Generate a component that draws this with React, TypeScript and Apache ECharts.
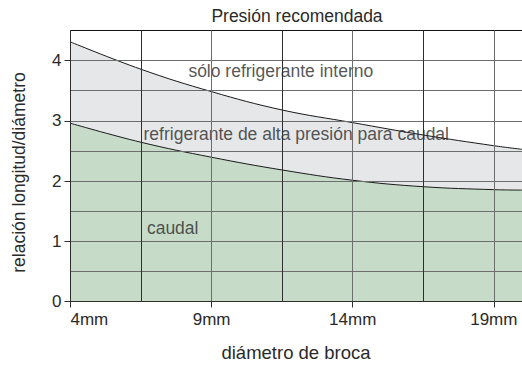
import React, { useEffect, useRef } from 'react';
import * as echarts from 'echarts';

// Drill diameter (mm) sample points along the two boundary curves
const diameters = [4, 6.5, 9, 11.5, 14, 16.5, 19, 20];
// Upper boundary: internal coolant only
const internalCoolantLimit = [4.31, 3.856, 3.484, 3.18, 2.97, 2.765, 2.587, 2.527];
// Lower boundary: flow (caudal)
const flowLimit = [2.96, 2.644, 2.395, 2.184, 2.013, 1.906, 1.857, 1.85];

const xTickValues = [4, 9, 14, 19];
const yTickValues = [0, 1, 2, 3, 4];

const regionLabels = ['sólo refrigerante interno', 'refrigerante de alta presión para caudal', 'caudal'];
const regionLabelX = [8.16, 6.57, 6.69];
const regionLabelY = [3.83, 2.78, 1.22];

const chartTitle = 'Presión recomendada';
const xTitle = 'diámetro de broca';
const yTitle = 'relación longitud/diámetro';

const FONT = '"Liberation Sans", Arial, Helvetica, sans-serif';
const TEXT = '#2a2a2a';
const DARK = '#2e2e2e';
const GREY = '#6c6e6d';

export default function App() {
  const ref = useRef<HTMLDivElement>(null);
  useEffect(() => {
    if (!ref.current) return;
    const chart = echarts.init(ref.current, undefined, { renderer: 'svg' });
    const xMin = diameters[0];
    const xMax = diameters[diameters.length - 1];
    const option: any = {
      animation: false,
      backgroundColor: '#ffffff',
      grid: [
        { left: 70.5, right: 0, top: 30.5, bottom: 64.5 },
        { left: 70.5, right: 28.22, top: 60.61, bottom: 64.5 },
      ],
      xAxis: [
        {
          type: 'value', gridIndex: 0, min: xMin, max: xMax, interval: 2.5, z: 3,
          axisLine: { show: true, lineStyle: { color: DARK, width: 1 } },
          axisTick: { show: false }, axisLabel: { show: false },
          splitLine: { show: true, lineStyle: { width: 1, color: [DARK, DARK, GREY, DARK, GREY, DARK, GREY, DARK] } },
        },
        {
          type: 'value', gridIndex: 1, min: xTickValues[0], max: xTickValues[xTickValues.length - 1], interval: 5, z: 3,
          axisLine: { show: false },
          axisTick: { show: true, length: 6, lineStyle: { color: DARK, width: 1 } },
          axisLabel: { show: true, margin: 9, fontFamily: FONT, fontSize: 17, color: TEXT, formatter: '{value}mm', alignMinLabel: 'left' },
          splitLine: { show: false },
        },
      ],
      yAxis: [
        {
          type: 'value', gridIndex: 0, min: 0, max: 4.5, interval: 0.5, z: 3,
          axisLine: { show: true, lineStyle: { color: DARK, width: 1 } },
          axisTick: { show: false }, axisLabel: { show: false },
          splitLine: { show: true, lineStyle: { width: 1, color: [DARK, GREY, GREY, GREY, GREY, GREY, GREY, GREY, GREY, '#111111'] } },
        },
        {
          type: 'value', gridIndex: 1, min: yTickValues[0], max: yTickValues[yTickValues.length - 1], interval: 1, z: 3,
          axisLine: { show: false },
          axisTick: { show: true, length: 6, lineStyle: { color: DARK, width: 1 } },
          axisLabel: { show: true, margin: 9, fontFamily: FONT, fontSize: 17, color: TEXT },
          splitLine: { show: false },
        },
      ],
      series: [
        {
          type: 'line', xAxisIndex: 0, yAxisIndex: 0, z: 1, smooth: 0.4, symbol: 'none',
          data: diameters.map((d, i) => [d, internalCoolantLimit[i]]),
          lineStyle: { color: '#1a1a1a', width: 1 },
          areaStyle: { color: '#e6e7e9', opacity: 1 },
        },
        {
          type: 'line', xAxisIndex: 0, yAxisIndex: 0, z: 2, smooth: 0.4, symbol: 'none',
          data: diameters.map((d, i) => [d, flowLimit[i]]),
          lineStyle: { color: '#1a1a1a', width: 1 },
          areaStyle: { color: '#c6dcc9', opacity: 1 },
        },
        {
          type: 'scatter', xAxisIndex: 0, yAxisIndex: 0, z: 2.5, symbolSize: 1, silent: true,
          itemStyle: { color: 'rgba(0,0,0,0)' },
          data: regionLabels.map((n, i) => ({ name: n, value: [regionLabelX[i], regionLabelY[i]] })),
          label: { show: true, position: 'right', distance: 0, formatter: '{b}', fontFamily: FONT, fontSize: 17.5, color: TEXT },
        },
      ],
      graphic: [
        { type: 'text', x: 297, y: 16, style: { text: chartTitle, font: `17.5px ${FONT}`, fill: TEXT, textAlign: 'center', textVerticalAlign: 'middle' } },
        { type: 'text', x: 296, y: 352, style: { text: xTitle, font: `18.5px ${FONT}`, fill: TEXT, textAlign: 'center', textVerticalAlign: 'middle' } },
        { type: 'text', x: 19, y: 172.5, rotation: Math.PI / 2, style: { text: yTitle, font: `17.5px ${FONT}`, fill: TEXT, textAlign: 'center', textVerticalAlign: 'middle' } },
      ],
    };
    chart.setOption(option);
    return () => chart.dispose();
  }, []);
  return <div ref={ref} style={{ position: 'fixed', left: 0, top: 0, width: 522, height: 366 }} />;
}
